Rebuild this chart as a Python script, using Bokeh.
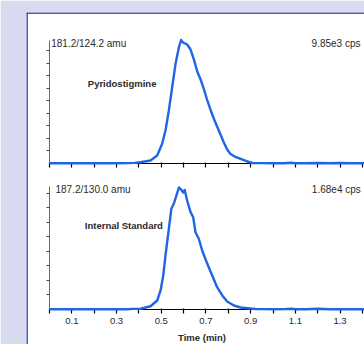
from bokeh.plotting import figure
from bokeh.models import Range1d, LinearAxis, FixedTicker, Label, Span, BoxAnnotation
from bokeh.embed import file_html
from bokeh.resources import INLINE

# ---------------- data ----------------
top_time = [0.00, 0.05, 0.10, 0.15, 0.20, 0.25, 0.30, 0.35, 0.38, 0.407, 0.452, 0.482,
            0.504, 0.519, 0.534, 0.549, 0.564, 0.579, 0.589, 0.595, 0.601, 0.608, 0.616,
            0.631, 0.646, 0.661, 0.676, 0.690, 0.705, 0.720, 0.735, 0.750, 0.765, 0.780,
            0.795, 0.810, 0.832, 0.855, 0.885, 0.908, 0.95, 1.00, 1.05, 1.08, 1.10, 1.15,
            1.20, 1.25, 1.30, 1.35, 1.40, 1.45]
top_cps = [20, 15, 20, 15, 20, 15, 20, 30, 50, 104, 240, 640,
           1570, 2630, 4230, 6090, 7950, 9280, 9850, 9700, 9610, 9560, 9490,
           9090, 8300, 7340, 6700, 5980, 5100, 4310, 3590, 2950, 2310, 1670,
           1120, 760, 520, 360, 160, 40, 30, 20, 25, 60, 20, 15,
           40, 20, 35, 20, 25, 20]

bot_time = [0.00, 0.05, 0.10, 0.15, 0.20, 0.25, 0.30, 0.35, 0.37, 0.407, 0.452, 0.482,
            0.497, 0.509, 0.519, 0.534, 0.545, 0.556, 0.568, 0.579, 0.589, 0.598, 0.605,
            0.616, 0.631, 0.643, 0.653, 0.668, 0.683, 0.706, 0.728, 0.750, 0.773, 0.795,
            0.825, 0.855, 0.885, 0.922, 0.96, 1.00, 1.05, 1.08, 1.10, 1.15, 1.20, 1.25,
            1.30, 1.35, 1.40, 1.45]
bot_cps = [30, 25, 30, 25, 30, 25, 30, 40, 90, 100, 450, 1240,
           2620, 4680, 7440, 11110, 13870, 14560, 15700, 16800, 16520, 16110, 16460,
           15010, 13400, 12710, 10640, 9740, 8120, 6290, 4680, 3070, 1930, 1100,
           550, 275, 180, 70, 50, 40, 45, 110, 40, 35, 100, 40,
           35, 40, 35, 30]

x_label_ticks = [0.1, 0.3, 0.5, 0.7, 0.9, 1.1, 1.3, 1.5]
x_plain_ticks = [0.0, 0.2, 0.4, 0.6, 0.8, 1.0, 1.2, 1.4]
top_y_ticks = [1000, 2000, 3000, 4000, 5000, 6000, 7000, 8000, 9000]
bot_y_ticks = [2000, 4000, 6000, 8000, 10000, 12000, 14000, 16000]
top_y_axis_max = 9800
bot_y_axis_max = 17000
top_peak = 9850
bot_peak = 16800

top_channel = "181.2/124.2 amu"
top_scale = "9.85e3 cps"
top_name = "Pyridostigmine"
bot_channel = "187.2/130.0 amu"
bot_scale = "1.68e4 cps"
bot_name = "Internal Standard"
x_title = "Time (min)"

# ---------------- layout geometry (window pixels) ----------------
W, H = 364, 344
FRAME_L, FRAME_R, FRAME_T, FRAME_B = 26, 364, 12, 344
X0_PX, X_PX_PER_MIN = 49.0, 223.5
TOP_BASE, TOP_PEAK_PX = 163.0, 39.5
BOT_BASE, BOT_PEAK_PX = 309.0, 187.0
KT = top_peak / (TOP_BASE - TOP_PEAK_PX)
KB = bot_peak / (BOT_BASE - BOT_PEAK_PX)


def xd(px):
    return (px - X0_PX) / X_PX_PER_MIN


def yt(py):
    return (TOP_BASE - py) * KT


def yb(py):
    return (BOT_BASE - py) * KB


LAV = "#d8dbef"
BORDER = "#1c1ca8"
STRIP = "#5757c8"
TRACE = "#1f66e5"
TXT = "#2a2a2a"
FONT = "Liberation Sans"

p = figure(width=W, height=H, output_backend="svg", toolbar_location=None,
           x_axis_location=None, y_axis_location=None, title=None,
           x_range=Range1d(xd(FRAME_L), xd(FRAME_R)),
           y_range=Range1d(yt(FRAME_B), yt(FRAME_T)),
           min_border_left=FRAME_L, min_border_right=0,
           min_border_top=FRAME_T, min_border_bottom=0)
p.extra_y_ranges = {"bot": Range1d(yb(FRAME_B), yb(FRAME_T))}
p.border_fill_color = LAV
p.background_fill_color = "white"
p.outline_line_color = None
p.grid.visible = False

# decorative strip at the far left of the page
p.add_layout(BoxAnnotation(left=0, right=3, top=8, bottom=317,
                           left_units="canvas", right_units="canvas",
                           top_units="canvas", bottom_units="canvas",
                           fill_color=STRIP, fill_alpha=1.0,
                           line_color="#3a3ab0", line_width=1, level="overlay"))

# panel border (left and top)
p.add_layout(Span(location=xd(FRAME_L + 0.5), dimension="height",
                  line_color=BORDER, line_width=1.5))
p.add_layout(Span(location=yt(FRAME_T + 0.5), dimension="width",
                  line_color=BORDER, line_width=1.5))


def style_x(ax):
    ax.axis_line_color = "black"
    ax.axis_line_width = 1.2
    ax.major_tick_line_color = "black"
    ax.minor_tick_line_color = "black"
    ax.major_tick_in = 1
    ax.major_tick_out = 4
    ax.minor_tick_in = 1
    ax.minor_tick_out = 4
    ax.major_tick_line_width = 1.2
    ax.minor_tick_line_width = 1.2
    ax.major_label_text_font = FONT
    ax.major_label_text_font_size = "9.5px"
    ax.major_label_text_color = TXT
    ax.major_label_standoff = 4
    ax.level = "underlay"


# top chromatogram x baseline (no labels)
xa_top = LinearAxis(fixed_location=0, bounds=(0, 1.5),
                    ticker=FixedTicker(ticks=[], minor_ticks=sorted(x_label_ticks + x_plain_ticks)))
style_x(xa_top)
p.add_layout(xa_top, "below")

# bottom chromatogram x axis with labels
xa_bot = LinearAxis(fixed_location=0, y_range_name="bot", bounds=(0, 1.5),
                    ticker=FixedTicker(ticks=x_label_ticks, minor_ticks=x_plain_ticks))
style_x(xa_bot)
p.add_layout(xa_bot, "below")


def style_y(ax):
    ax.axis_line_color = "#6a6a6a"
    ax.axis_line_width = 1
    ax.minor_tick_line_color = "#444444"
    ax.minor_tick_in = 0
    ax.minor_tick_out = 3
    ax.major_tick_line_color = None
    ax.level = "underlay"


ya_top = LinearAxis(fixed_location=0, bounds=(0, top_y_axis_max),
                    ticker=FixedTicker(ticks=[], minor_ticks=top_y_ticks))
style_y(ya_top)
p.add_layout(ya_top, "left")

ya_bot = LinearAxis(fixed_location=0, y_range_name="bot", bounds=(0, bot_y_axis_max),
                    ticker=FixedTicker(ticks=[], minor_ticks=bot_y_ticks))
style_y(ya_bot)
p.add_layout(ya_bot, "left")

# traces
p.line(top_time, top_cps, line_color=TRACE, line_width=2.4, line_join="round")
p.line(bot_time, bot_cps, y_range_name="bot", line_color=TRACE, line_width=2.4,
       line_join="round")


def lab(text, px, py, rng, align="left", bold=False, size="10px"):
    y = yt(py) if rng == "top" else yb(py)
    kw = {} if rng == "top" else {"y_range_name": "bot"}
    p.add_layout(Label(x=xd(px), y=y, text=text, text_font=FONT, text_font_size=size,
                       text_font_style="bold" if bold else "normal",
                       text_color=TXT, text_align=align, text_baseline="middle", **kw))


lab(top_channel, 50.7, 43.3, "top")
lab(top_scale, 360, 42.7, "top", align="right")
lab(top_name, 87.3, 83.3, "top", bold=True, size="9.5px")
lab(bot_channel, 55.0, 188.7, "bot")
lab(bot_scale, 360.3, 188.7, "bot", align="right")
lab(bot_name, 84.3, 225.3, "bot", bold=True, size="9.5px")
lab(x_title, 201.5, 336.5, "bot", align="center", bold=True, size="9.5px")

open("out.html", "w").write(file_html(p, INLINE))
